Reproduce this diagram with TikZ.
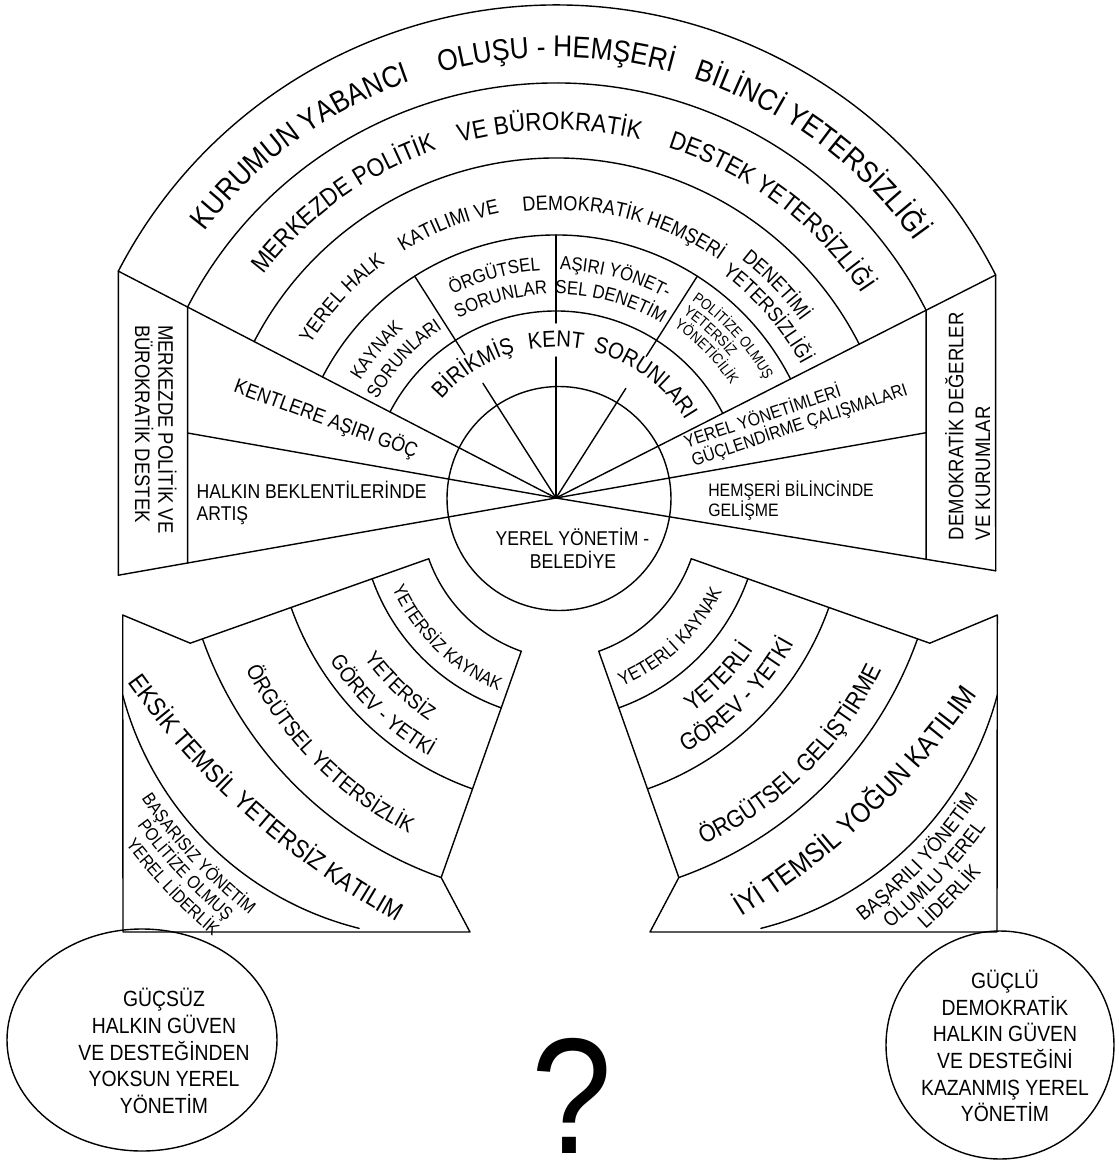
\documentclass[tikz,border=0pt]{standalone}
\usepackage{fontspec}
\setmainfont{Liberation Sans}[FakeStretch=0.88]
\usetikzlibrary{decorations.text}

% text on a clockwise arc (reads left to right over the top), centred on an angle
\newcommand\cwtext[5]{%
  \path[shift={#1}, decorate, decoration={text along path, text align=center,
        text={|\fontsize{#4}{#4}\selectfont|#5}}]
    ({#3+60}:#2) arc[start angle={#3+60}, end angle={#3-60}, radius=#2];}
% same, but the text starts at the given angle
\newcommand\cwleft[5]{%
  \path[shift={#1}, decorate, decoration={text along path, text align=left,
        text={|\fontsize{#4}{#4}\selectfont|#5}}]
    (#3:#2) arc[start angle=#3, end angle={#3-80}, radius=#2];}
% text on a counter-clockwise arc, letters facing the centre
\newcommand\ccwtext[5]{%
  \path[shift={#1}, decorate, decoration={text along path, text align=center,
        text={|\fontsize{#4}{#4}\selectfont|#5}}]
    ({#3-50}:#2) arc[start angle={#3-50}, end angle={#3+50}, radius=#2];}
% the same on a flat arc (smaller sweep)
\newcommand\ccwflat[5]{%
  \path[shift={#1}, decorate, decoration={text along path, text align=center,
        text={|\fontsize{#4}{#4}\selectfont|#5}}]
    ({#3-20}:#2) arc[start angle={#3-20}, end angle={#3+20}, radius=#2];}

% outline of a lower fan (drawn once as is, once mirrored)
\newcommand\fanoutline{%
  \begin{scope}[shift={(572,-508)}]
    \draw[ln] (199.5:152) arc[start angle=199.5, end angle=250.5, radius=152];
    \draw[ln] (199.5:212) arc[start angle=199.5, end angle=250.5, radius=212];
    \draw[ln] (199.5:298) arc[start angle=199.5, end angle=250.5, radius=298];
    \draw[ln] (199.5:392) arc[start angle=199.5, end angle=250.5, radius=392];
    \draw[ln] (199.5:152) -- (199.5:405) -- (-449.3,-107) -- (-449,-424)
              -- (-102,-424) -- (250.5:392) -- (250.5:152);
  \end{scope}
  \draw[ln] (122.7,-695) arc[start angle=194.75, end angle=256, radius=326];
}

\begin{document}
\begin{tikzpicture}[x=1pt, y=1pt,
  ln/.style={line width=1.4pt, line join=round, line cap=round},
  lbl/.style={inner sep=0pt, outer sep=0pt},
  f/.style={font=\fontsize{#1}{#1}\selectfont}]
\useasboundingbox[fill=white] (0,0) rectangle (1119,-1163);

% ---------- upper fan around the municipality ----------
\begin{scope}[shift={(556,-498)}]
  \foreach \r in {493,415,340,263,187}
    \draw[ln] (152.6:\r) arc[start angle=152.6, end angle=26.9, radius=\r];
  % rays from the centre
  \draw[ln] (0,0) -- (152.6:493);
  \draw[ln] (0,0) -- (26.9:493);
  \draw[ln] (0,0) -- (-368.4,65);
  \draw[ln] (0,0) -- (370.1,65.3);
  \draw[ln] (0,0) -- (-437.6,-77.2);
  \draw[ln] (0,0) -- (439.7,-72.8);
  % side strips
  \draw[ln] (152.6:493) -- (-437.6,-77.2);
  \draw[ln] (152.6:415) -- (-368.4,-65);
  \draw[ln] (26.9:493) -- (439.7,-72.8);
  \draw[ln] (26.9:415) -- (370.1,-61.3);
  % cell dividers, broken where the words cross them
  \draw[ln] (0,0) -- (122.5:136);  \draw[ln] (122.5:170) -- (122.5:263);
  \draw[ln] (0,0) -- (90:141);     \draw[ln] (90:175) -- (90:263);
  \draw[ln] (0,0) -- (57.5:130);   \draw[ln] (57.5:168) -- (57.5:263);
  % inner circle
  \draw[ln] (3,-0.5) circle[radius=112];
\end{scope}

% ---------- lower fans ----------
\fanoutline
\begin{scope}[xshift=1120pt, xscale=-1]
  \fanoutline
\end{scope}

% ---------- lower circles ----------
\draw[ln] (142,-1040) ellipse[x radius=135, y radius=111];
\draw[ln] (1000,-1045) circle[radius=114];

% ---------- texts on the upper arcs ----------
\cwtext{(556,-498)}{441}{126}{30}{KURUMUN YABANCI}
\cwtext{(556,-498)}{441}{90}{30}{OLUŞU - HEMŞER{İ}}
\cwtext{(556,-498)}{441}{53.7}{30}{B{İ}L{İ}NC{İ} YETERS{İ}ZL{İ}Ğ{İ}}
\cwtext{(556,-498)}{368}{125.8}{25.5}{MERKEZDE POL{İ}T{İ}K}
\cwtext{(556,-498)}{368}{91}{25.5}{VE BÜROKRAT{İ}K}
\cwtext{(556,-498)}{368}{53}{25.5}{DESTEK YETERS{İ}ZL{İ}Ğ{İ}}
\cwtext{(556,-498)}{290}{137}{20.5}{YEREL HALK}
\cwtext{(556,-498)}{290}{111.5}{20.5}{KATILIMI VE}
\cwtext{(556,-498)}{288}{76}{20.5}{DEMOKRAT{İ}K HEMŞER{İ}}
\cwtext{(556,-498)}{302}{44}{20.5}{DENET{İ}M{İ}}
\cwtext{(556,-498)}{279}{41}{20.5}{YETERS{İ}ZL{İ}Ğ{İ}}
\cwtext{(556,-498)}{228}{140.5}{19}{KAYNAK}
\cwtext{(556,-498)}{204}{137.5}{19}{SORUNLARI}
\cwtext{(556,-498)}{228}{105.5}{19}{ÖRGÜTSEL}
\cwtext{(556,-498)}{204}{105.5}{19}{SORUNLAR}
\cwtext{(556,-498)}{228}{75}{19}{AŞIRI YÖNET-}
\cwtext{(556,-498)}{204}{74.5}{19}{SEL DENET{İ}M}
\cwleft{(556,-498)}{240}{55.5}{15}{POL{İ}T{İ}ZE OLMUŞ}
\cwleft{(556,-498)}{224}{55.5}{15}{YETERS{İ}Z}
\cwleft{(556,-498)}{208}{55.5}{15}{YÖNET{İ}C{İ}L{İ}K}
\cwtext{(556,-498)}{151}{122.5}{23}{B{İ}R{İ}KM{İ}Ş}
\cwtext{(556,-498)}{151}{90}{23}{KENT}
\cwtext{(556,-498)}{151}{53.5}{23}{SORUNLARI}

% ---------- texts in the lower fans ----------
\ccwtext{(572,-508)}{197}{226.1}{18.6}{YETERS{İ}Z KAYNAK}
\ccwtext{(572,-508)}{256.5}{226}{21}{YETERS{İ}Z}
\ccwtext{(572,-508)}{286.5}{226.2}{21.5}{GÖREV - YETK{İ}}
\ccwtext{(572,-508)}{364}{224.85}{22}{ÖRGÜTSEL YETERS{İ}ZL{İ}K}
\ccwflat{(782,-216)}{804}{228.4}{25.5}{EKS{İ}K TEMS{İ}L YETERS{İ}Z KATILIM}
\ccwtext{(572,-508)}{519.5}{222.8}{18}{BAŞARISIZ YÖNET{İ}M}
\ccwtext{(572,-508)}{538.5}{223.1}{18}{POL{İ}T{İ}ZE OLMUŞ}
\ccwtext{(572,-508)}{559}{223.5}{18}{YEREL L{İ}DERL{İ}K}

\ccwtext{(548,-508)}{193}{313.5}{18.9}{YETERL{İ} KAYNAK}
\ccwtext{(548,-508)}{250}{315.25}{24}{YETERL{İ}}
\ccwtext{(548,-508)}{281}{315.3}{24}{GÖREV - YETK{İ}}
\ccwtext{(548,-508)}{371}{314.5}{24.5}{ÖRGÜTSEL GEL{İ}ŞT{İ}RME}
\ccwflat{(315,-228)}{810}{313.3}{28}{{İ}Y{İ} TEMS{İ}L YOĞUN KATILIM}
\ccwtext{(548,-508)}{520}{316.6}{20.5}{BAŞARILI YÖNET{İ}M}
\ccwtext{(548,-508)}{542.5}{316.5}{20.5}{OLUMLU YEREL}
\ccwtext{(548,-508)}{566}{315.9}{20.5}{L{İ}DERL{İ}K}

% ---------- side strips ----------
\node[lbl, f=21, rotate=-90, anchor=base west] (mpv) at (158.3,-325) {MERKEZDE POLİTİK VE};
\node[lbl, f=21, rotate=-90, anchor=base west] (bds) at (135,-325) {BÜROKRATİK DESTEK};
\node[lbl, f=21, rotate=90, anchor=base west] (ddg) at (963.3,-540) {DEMOKRATİK DEĞERLER};
\node[lbl, f=21, rotate=90, anchor=base west] (vek) at (990,-540) {VE KURUMLAR};

% ---------- side wedges ----------
\node[lbl, f=20.5, rotate=-20] (goc) at (326,-419) {KENTLERE AŞIRI GÖÇ};
\node[lbl, f=20, anchor=base west] (hb1) at (196.7,-498.3) {HALKIN BEKLENTİLERİNDE};
\node[lbl, f=20, anchor=base west] (hb2) at (196.7,-520.5) {ARTIŞ};
\node[lbl, f=18, rotate=18.5, anchor=base west] (yy1) at (686.7,-448.3) {YEREL YÖNETİMLERİ};
\node[lbl, f=18, rotate=18.5, anchor=base west] (yy2) at (694,-466.5) {GÜÇLENDİRME ÇALIŞMALARI};
\node[lbl, f=18, anchor=base west] (hm1) at (708.3,-496.7) {HEMŞERİ BİLİNCİNDE};
\node[lbl, f=18, anchor=base west] (hm2) at (708.3,-516.7) {GELİŞME};

% ---------- centre ----------
\node[lbl, f=20, anchor=base] (bel1) at (572.5,-545) {YEREL YÖNETİM -};
\node[lbl, f=20, anchor=base] (bel2) at (573,-568.3) {BELEDİYE};

% ---------- lower circles ----------
\foreach \t [count=\i from 0] in {GÜÇSÜZ, HALKIN GÜVEN, VE DESTEĞİNDEN, YOKSUN YEREL, YÖNETİM}
  \node[lbl, f=22, anchor=base] (weak\i) at (164,{-1006.7-26.7*\i}) {\t};
\foreach \t [count=\i from 0] in {GÜÇLÜ, DEMOKRATİK, HALKIN GÜVEN, VE DESTEĞİNİ, KAZANMIŞ YEREL, YÖNETİM}
  \node[lbl, f=22, anchor=base] (strong\i) at (1005,{-988.3-26.7*\i}) {\t};

\node[lbl, f=165, anchor=base, text depth=0pt] (quest) at (572,-1153) {?};
\end{tikzpicture}
\end{document}
